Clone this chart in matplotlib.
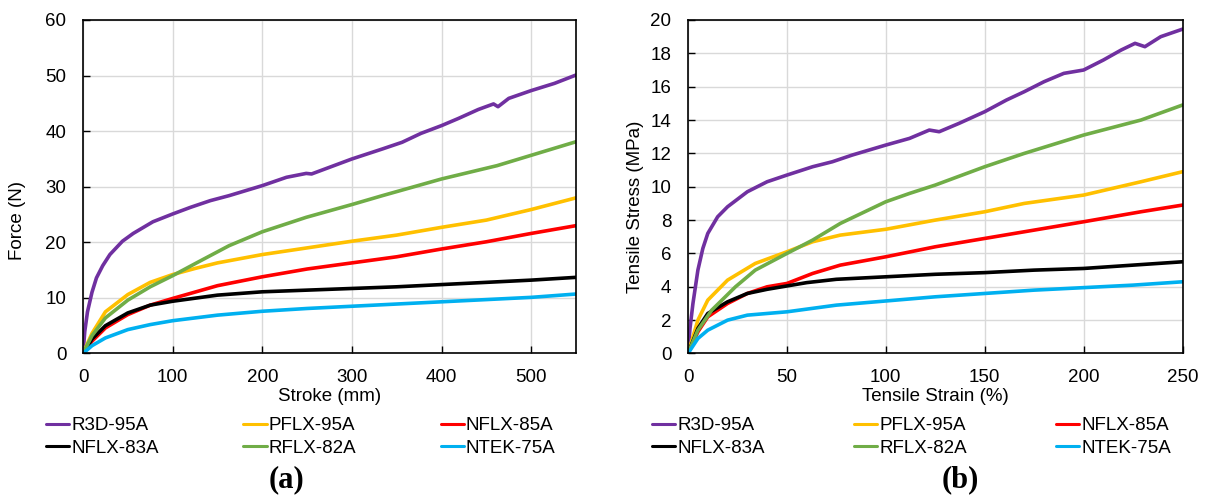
import matplotlib
matplotlib.use("Agg")
import matplotlib.pyplot as plt
import numpy as np

plt.rcParams['font.family'] = ['Liberation Sans', 'DejaVu Sans']

names = ["R3D-95A", "PFLX-95A", "NFLX-85A", "NFLX-83A", "RFLX-82A", "NTEK-75A"]
colors = ["#7030A0", "#FFC000", "#FF0000", "#000000", "#70AD47", "#00B0F0"]

# (a) force vs stroke
stroke_r3d = [0, 2, 5, 10, 15, 22, 30, 44, 56, 78, 100, 120, 142, 163, 200, 227, 249, 255,
              300, 334, 356, 377, 400, 419, 441, 458, 463, 475, 500, 526, 550]
force_r3d = [0, 4.0, 7.5, 11.0, 13.6, 15.8, 17.8, 20.2, 21.6, 23.7, 25.1, 26.3, 27.5, 28.4, 30.2,
             31.7, 32.4, 32.3, 35.0, 36.8, 38.0, 39.6, 41.0, 42.3, 43.9, 44.9, 44.4, 45.9, 47.3, 48.6, 50.1]
stroke_pflx = [0, 10, 25, 50, 75, 100, 125, 150, 200, 250, 300, 350, 400, 450, 500, 550]
force_pflx = [0, 3.6, 7.5, 10.6, 12.8, 14.2, 15.3, 16.3, 17.8, 19.0, 20.2, 21.3, 22.7, 24.0, 25.9, 28.0]
stroke_n85 = [0, 10, 25, 50, 75, 100, 150, 200, 250, 300, 350, 400, 450, 500, 550]
force_n85 = [0, 2.2, 4.6, 7.0, 8.7, 9.9, 12.2, 13.8, 15.2, 16.3, 17.4, 18.8, 20.1, 21.6, 23.0]
stroke_n83 = [0, 10, 25, 50, 75, 100, 150, 200, 250, 300, 350, 400, 450, 500, 550]
force_n83 = [0, 2.6, 5.0, 7.3, 8.7, 9.4, 10.5, 11.1, 11.4, 11.7, 12.0, 12.4, 12.8, 13.2, 13.7]
stroke_rflx = [0, 10, 25, 50, 75, 100, 129, 163, 200, 249, 300, 334, 400, 462, 550]
force_rflx = [0, 3.2, 6.4, 9.6, 12.0, 14.0, 16.5, 19.4, 21.9, 24.5, 26.8, 28.4, 31.4, 33.8, 38.1]
stroke_ntek = [0, 10, 25, 50, 75, 100, 150, 200, 250, 300, 350, 400, 450, 500, 550]
force_ntek = [0, 1.4, 2.8, 4.3, 5.2, 5.9, 6.9, 7.6, 8.1, 8.5, 8.9, 9.3, 9.7, 10.1, 10.7]

# (b) stress vs strain
strain_r3d = [0, 1, 2.5, 5, 7.5, 10, 15, 20, 30, 40, 50, 63, 73, 83, 100, 112, 122, 127, 137,
              150, 161, 170, 180, 190, 200, 210, 219, 226, 231, 239, 250]
stress_r3d = [0, 1.5, 3.0, 5.0, 6.3, 7.2, 8.2, 8.8, 9.7, 10.3, 10.7, 11.2, 11.5, 11.9, 12.5, 12.9,
              13.4, 13.3, 13.8, 14.5, 15.2, 15.7, 16.3, 16.8, 17.0, 17.6, 18.2, 18.6, 18.4, 19.0, 19.45]
strain_pflx = [0, 5, 10, 20, 34, 50, 63, 77, 100, 125, 150, 170, 200, 229, 250]
stress_pflx = [0, 2.0, 3.2, 4.4, 5.4, 6.1, 6.7, 7.1, 7.45, 8.0, 8.5, 9.0, 9.5, 10.3, 10.9]
strain_n85 = [0, 5, 10, 20, 30, 40, 50, 63, 77, 100, 125, 150, 170, 200, 229, 250]
stress_n85 = [0, 1.3, 2.2, 3.0, 3.6, 4.0, 4.2, 4.8, 5.3, 5.8, 6.4, 6.9, 7.3, 7.9, 8.5, 8.9]
strain_n83 = [0, 5, 10, 20, 30, 40, 50, 60, 75, 100, 125, 150, 175, 200, 225, 250]
stress_n83 = [0, 1.5, 2.4, 3.1, 3.6, 3.85, 4.05, 4.25, 4.45, 4.6, 4.75, 4.85, 5.0, 5.1, 5.3, 5.5]
strain_rflx = [0, 5, 12, 24, 34, 50, 63, 77, 100, 112, 125, 150, 170, 200, 229, 250]
stress_rflx = [0, 1.4, 2.6, 4.0, 5.0, 6.0, 6.8, 7.8, 9.1, 9.6, 10.1, 11.2, 12.0, 13.1, 14.0, 14.9]
strain_ntek = [0, 5, 10, 20, 30, 50, 75, 100, 125, 150, 175, 200, 225, 250]
stress_ntek = [0, 0.9, 1.4, 2.0, 2.3, 2.5, 2.9, 3.15, 3.4, 3.6, 3.8, 3.95, 4.1, 4.3]

series_a = [(stroke_r3d, force_r3d), (stroke_pflx, force_pflx), (stroke_n85, force_n85),
            (stroke_n83, force_n83), (stroke_rflx, force_rflx), (stroke_ntek, force_ntek)]
series_b = [(strain_r3d, stress_r3d), (strain_pflx, stress_pflx), (strain_n85, stress_n85),
            (strain_n83, stress_n83), (strain_rflx, stress_rflx), (strain_ntek, stress_ntek)]

W, H = 1206, 498
fig = plt.figure(figsize=(W / 100, H / 100), dpi=100)

def px_rect(x0, y0, x1, y1):
    return [x0 / W, 1 - y1 / H, (x1 - x0) / W, (y1 - y0) / H]

ax_a = fig.add_axes(px_rect(83, 20, 576, 353.5))
ax_b = fig.add_axes(px_rect(688, 20, 1182.5, 353.5))

FS = 13.5

def style(ax, xmax, xstep, ymax, ystep, xlabel, ylabel, ylab_pos, leg_x, colsp):
    ax.set_xlim(0, xmax)
    ax.set_ylim(0, ymax)
    ax.set_xticks(np.arange(0, xmax + 1, xstep))
    ax.set_yticks(np.arange(0, ymax + 0.01, ystep))
    ax.grid(True, color="#D9D9D9", lw=1.0)
    ax.set_axisbelow(True)
    ax.tick_params(direction="in", length=5, width=1, labelsize=FS, colors="black")
    ax.tick_params(axis="x", pad=11)
    ax.tick_params(axis="y", pad=12)
    for s in ax.spines.values():
        s.set_color("black")
        s.set_linewidth(1.2)
    ax.set_xlabel(xlabel, fontsize=FS, va="center")
    ax.xaxis.set_label_coords(0.5, -0.13)
    ax.set_ylabel(ylabel, fontsize=FS, va="center")
    ax.yaxis.set_label_coords(*ylab_pos)
    handles = ax.get_lines()
    order = [0, 3, 1, 4, 2, 5]
    ax.legend([handles[i] for i in order], [names[i] for i in order], ncols=3,
              loc="upper left", bbox_to_anchor=(leg_x / W, 1 - 417 / H),
              bbox_transform=fig.transFigure, frameon=False, fontsize=FS,
              handlelength=1.25, handletextpad=0.1, columnspacing=colsp,
              labelspacing=0.3, borderpad=0, borderaxespad=0)
    for lh in ax.get_legend().legend_handles:
        lh.set_linewidth(2.2)

for (x, y), c in zip(series_a, colors):
    ax_a.plot(x, y, color=c, lw=2.6, solid_capstyle="round")
for (x, y), c in zip(series_b, colors):
    ax_b.plot(x, y, color=c, lw=2.6, solid_capstyle="round")

style(ax_a, 550, 100, 60, 10, "Stroke (mm)", "Force (N)", (-0.132, 0.40), 46, 4.5)
style(ax_b, 250, 50, 20, 2, "Tensile Strain (%)", "Tensile Stress (MPa)", (-0.107, 0.44), 652, 4.75)

fig.text(286 / W, 1 - 480 / H, "(a)", ha="center", va="center", fontsize=22,
         fontweight="bold", family=["Liberation Serif", "DejaVu Serif"])
fig.text(960 / W, 1 - 480 / H, "(b)", ha="center", va="center", fontsize=22,
         fontweight="bold", family=["Liberation Serif", "DejaVu Serif"])

fig.savefig("out.png", dpi=100, facecolor="white")
